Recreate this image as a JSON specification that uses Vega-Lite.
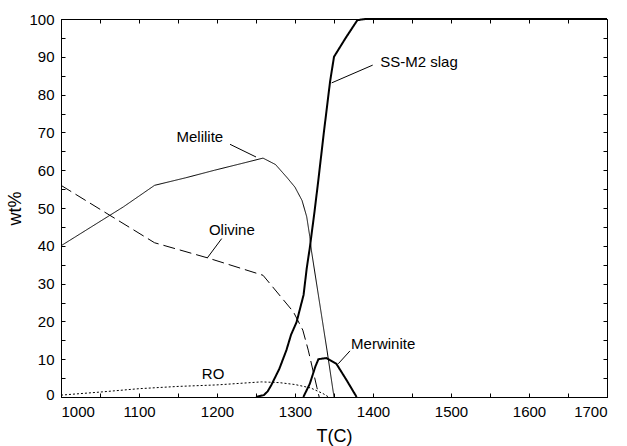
{
  "$schema": "https://vega.github.io/schema/vega-lite/v6.json",
  "width": 546,
  "height": 378,
  "autosize": "none",
  "padding": {"left": 61, "top": 19, "right": 20, "bottom": 49},
  "background": "white",
  "config": {
    "font": "Liberation Sans",
    "view": {"stroke": "#000", "strokeWidth": 1},
    "axis": {
      "domainColor": "#000", "tickColor": "#000", "labelColor": "#000", "titleColor": "#000",
      "labelFontSize": 15, "titleFontSize": 18, "titleFontWeight": "normal",
      "grid": false, "tickSize": -4, "labelPadding": 11
    }
  },
  "datasets": {
    "curves": [
      {"series": "slag", "T": 1250, "wt": 0}, {"series": "slag", "T": 1260, "wt": 0.5}, {"series": "slag", "T": 1265, "wt": 1.5},
      {"series": "slag", "T": 1270, "wt": 3.3}, {"series": "slag", "T": 1280, "wt": 7.5}, {"series": "slag", "T": 1289, "wt": 12.4},
      {"series": "slag", "T": 1295, "wt": 16.5}, {"series": "slag", "T": 1302, "wt": 19.8}, {"series": "slag", "T": 1306, "wt": 23},
      {"series": "slag", "T": 1311, "wt": 27}, {"series": "slag", "T": 1315, "wt": 34}, {"series": "slag", "T": 1319, "wt": 39.5},
      {"series": "slag", "T": 1325, "wt": 49}, {"series": "slag", "T": 1330, "wt": 57.5}, {"series": "slag", "T": 1337, "wt": 70},
      {"series": "slag", "T": 1345, "wt": 83.5}, {"series": "slag", "T": 1350, "wt": 90}, {"series": "slag", "T": 1365, "wt": 95},
      {"series": "slag", "T": 1380, "wt": 99.7}, {"series": "slag", "T": 1390, "wt": 100}, {"series": "slag", "T": 1700, "wt": 100},
      {"series": "melilite", "T": 1000, "wt": 40}, {"series": "melilite", "T": 1080, "wt": 50.3}, {"series": "melilite", "T": 1120, "wt": 56},
      {"series": "melilite", "T": 1160, "wt": 58}, {"series": "melilite", "T": 1197, "wt": 60}, {"series": "melilite", "T": 1236, "wt": 62},
      {"series": "melilite", "T": 1259, "wt": 63.2}, {"series": "melilite", "T": 1275, "wt": 61.5}, {"series": "melilite", "T": 1290, "wt": 58},
      {"series": "melilite", "T": 1300, "wt": 55.5}, {"series": "melilite", "T": 1309, "wt": 52}, {"series": "melilite", "T": 1315, "wt": 47.7},
      {"series": "melilite", "T": 1319, "wt": 42.4}, {"series": "melilite", "T": 1321, "wt": 38.8}, {"series": "melilite", "T": 1341, "wt": 12.4},
      {"series": "melilite", "T": 1350, "wt": 0},
      {"series": "olivine", "T": 1000, "wt": 56}, {"series": "olivine", "T": 1120, "wt": 40.8}, {"series": "olivine", "T": 1188, "wt": 36.8},
      {"series": "olivine", "T": 1259, "wt": 32.2}, {"series": "olivine", "T": 1298, "wt": 22.5}, {"series": "olivine", "T": 1310, "wt": 17.7},
      {"series": "olivine", "T": 1317, "wt": 12.4}, {"series": "olivine", "T": 1328, "wt": 2.6}, {"series": "olivine", "T": 1331, "wt": 0},
      {"series": "ro", "T": 1000, "wt": 0.5}, {"series": "ro", "T": 1050, "wt": 1.3}, {"series": "ro", "T": 1100, "wt": 2.2},
      {"series": "ro", "T": 1150, "wt": 2.8}, {"series": "ro", "T": 1200, "wt": 3.2}, {"series": "ro", "T": 1257, "wt": 4},
      {"series": "ro", "T": 1280, "wt": 3.8}, {"series": "ro", "T": 1300, "wt": 3.3}, {"series": "ro", "T": 1320, "wt": 2.4},
      {"series": "ro", "T": 1336, "wt": 0.9}, {"series": "ro", "T": 1343, "wt": 0},
      {"series": "merwinite", "T": 1310.7, "wt": 0}, {"series": "merwinite", "T": 1319, "wt": 3.5}, {"series": "merwinite", "T": 1326, "wt": 8},
      {"series": "merwinite", "T": 1330, "wt": 10}, {"series": "merwinite", "T": 1340, "wt": 10.3}, {"series": "merwinite", "T": 1346, "wt": 9.6},
      {"series": "merwinite", "T": 1353, "wt": 8.8}, {"series": "merwinite", "T": 1366, "wt": 4.5}, {"series": "merwinite", "T": 1379, "wt": 0}
    ],
    "labels": [
      {"text": "Melilite", "T": 1178, "wt": 68.7},
      {"text": "Olivine", "T": 1219, "wt": 44.3},
      {"text": "SS-M2 slag", "T": 1459, "wt": 88.6},
      {"text": "Merwinite", "T": 1413, "wt": 14.1},
      {"text": "RO", "T": 1195, "wt": 6}
    ],
    "leaders": [
      {"T": 1216.7, "wt": 66.85, "T2": 1250, "wt2": 63.5},
      {"T": 1206, "wt": 41.9, "T2": 1187.6, "wt2": 36.8},
      {"T": 1399.6, "wt": 87.8, "T2": 1347, "wt2": 83.1},
      {"T": 1370.5, "wt": 12.2, "T2": 1355.5, "wt2": 8.8}
    ]
  },
  "resolve": {"axis": {"x": "independent", "y": "independent"}},
  "layer": [
    {
      "data": {"name": "curves"},
      "mark": {"type": "line", "color": "#000", "strokeWidth": 0},
      "encoding": {
        "x": {"field": "T", "type": "quantitative", "scale": {"domain": [1000, 1700], "nice": false, "zero": false},
              "axis": {"orient": "top", "values": [1000,1050,1100,1150,1200,1250,1300,1350,1400,1450,1500,1550,1600,1650,1700], "labels": false, "title": null, "domain": false}},
        "y": {"field": "wt", "type": "quantitative", "scale": {"domain": [0, 100], "nice": false},
              "axis": {"orient": "right", "values": [0,5,10,15,20,25,30,35,40,45,50,55,60,65,70,75,80,85,90,95,100], "labels": false, "title": null, "domain": false}},
        "detail": {"field": "series"},
        "opacity": {"value": 0}
      }
    },
    {
      "data": {"name": "curves"},
      "mark": {"type": "line", "color": "#000"},
      "encoding": {
        "x": {"field": "T", "type": "quantitative",
              "axis": {"orient": "bottom", "format": "d", "values": [1000,1050,1100,1150,1200,1250,1300,1350,1400,1450,1500,1550,1600,1650,1700],
                       "labelExpr": "datum.value % 100 == 0 ? datum.label : ''", "title": "T(C)", "titlePadding": 8}},
        "y": {"field": "wt", "type": "quantitative",
              "axis": {"orient": "left", "values": [0,5,10,15,20,25,30,35,40,45,50,55,60,65,70,75,80,85,90,95,100],
                       "labelExpr": "datum.value % 10 == 0 ? datum.label : ''", "title": "wt%", "titlePadding": 4,
                       "labelOffset": {"condition": {"test": "datum.value == 0", "value": -3}, "value": 0}}},
        "detail": {"field": "series"},
        "strokeWidth": {"field": "series", "type": "nominal", "legend": null,
                        "scale": {"type": "ordinal", "domain": ["slag", "melilite", "olivine", "ro", "merwinite"], "range": [2, 1, 1, 1, 2]}},
        "strokeDash": {"field": "series", "type": "nominal", "legend": null,
                       "scale": {"domain": ["slag", "melilite", "olivine", "ro", "merwinite"], "range": [[1, 0], [1, 0], [12, 5], [2, 2], [1, 0]]}}
      }
    },
    {
      "data": {"name": "leaders"},
      "mark": {"type": "rule", "color": "#000", "strokeWidth": 1},
      "encoding": {
        "x": {"field": "T", "type": "quantitative", "axis": null},
        "x2": {"field": "T2"},
        "y": {"field": "wt", "type": "quantitative", "axis": null},
        "y2": {"field": "wt2"}
      }
    },
    {
      "data": {"name": "labels"},
      "mark": {"type": "text", "color": "#000", "fontSize": 15, "align": "center", "baseline": "middle"},
      "encoding": {
        "x": {"field": "T", "type": "quantitative", "axis": null},
        "y": {"field": "wt", "type": "quantitative", "axis": null},
        "text": {"field": "text"}
      }
    }
  ]
}
